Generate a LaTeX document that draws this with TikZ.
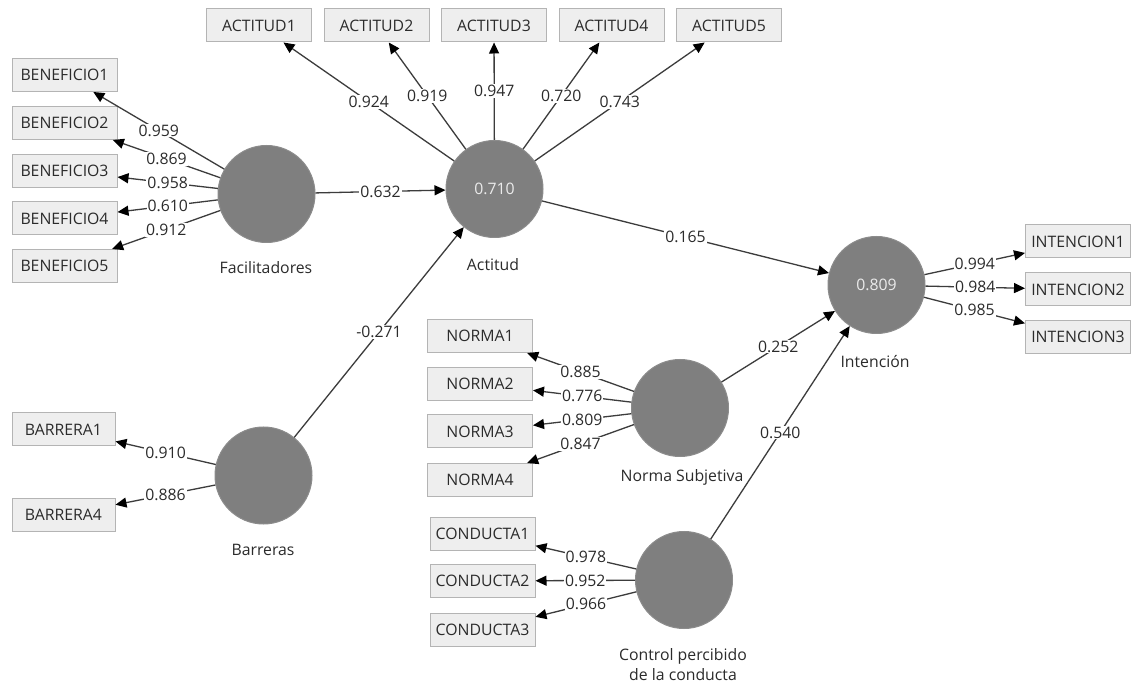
\documentclass[tikz,border=0pt]{standalone}
\usepackage{fontspec}
\setmainfont{Open Sans}
\usetikzlibrary{arrows.meta}
\definecolor{lvfill}{HTML}{7F7F7F}
\definecolor{lvedge}{HTML}{8C8C8C}
\definecolor{mvfill}{HTML}{EEEEEE}
\definecolor{mvdraw}{HTML}{B4B4B4}
\definecolor{ink}{HTML}{3C3C3C}
\definecolor{txt}{HTML}{2B2B2B}
\begin{document}
\begin{tikzpicture}[x=1pt,y=-1pt,
  font=\fontsize{15.8}{20}\selectfont,
  indicator/.style={draw=mvdraw, fill=mvfill, line width=1pt,
    minimum width=105pt, minimum height=33pt, inner sep=0pt, text=txt},
  latent/.style={circle, fill=lvfill, draw=lvedge, line width=1pt,
    minimum size=97pt, inner sep=0pt, text=white!92!black},
  caption/.style={text=txt, align=center, inner sep=0pt},
  link/.style={draw=ink, line width=1.3pt,
    -{Triangle[length=11pt,width=10pt,black]}},
  coef/.style={fill=white, inner sep=1pt, text=txt}
]
\useasboundingbox (0,0) rectangle (1133,684);
\fill[white] (0,0) rectangle (1133,684);

% latent variables
\node[latent] (fac) at (266.5,194) {};
\node[latent] (act) at (494.5,189) {0.710};
\node[latent] (int) at (876.5,285) {0.809};
\node[latent] (bar) at (263.5,475.5) {};
\node[latent] (nor) at (680,408) {};
\node[latent] (con) at (684,580) {};

% latent variable names
\node[caption] (facc) at (266,268) {Facilitadores};
\node[caption] (actc) at (493,265) {Actitud};
\node[caption] (intc) at (875,362) {Intención};
\node[caption] (barc) at (263,550) {Barreras};
\node[caption] (norc) at (682,477) {Norma Subjetiva};
\node[caption, text depth=0pt] (conc) at (683,664) {Control percibido\\de la conducta};

% indicators
\foreach \i/\x in {1/259,2/376.5,3/494,4/611.5,5/729}
  \node[indicator] (a\i) at (\x,25.5) {ACTITUD\i};
\foreach \i/\y in {1/75,2/123,3/171,4/218.5,5/266}
  \node[indicator] (b\i) at (64.5,\y) {BENEFICIO\i};
\foreach \i/\y in {1/241.5,2/289.5,3/337}
  \node[indicator] (i\i) at (1078,\y) {INTENCION\i};
\foreach \i/\y in {1/336,2/384,3/431.5,4/480}
  \node[indicator] (n\i) at (480,\y) {NORMA\i};
\node[indicator, minimum width=103pt] (r1) at (63.5,429.5) {BARRERA1};
\node[indicator, minimum width=103pt] (r4) at (63.5,515) {BARRERA4};
\foreach \i/\y in {1/533.5,2/581,3/630}
  \node[indicator] (c\i) at (482.5,\y) {CONDUCTA\i};

% outer loadings
\draw[link] (act) -- node[coef]{0.924} (a1);
\draw[link] (act) -- node[coef]{0.919} (a2);
\draw[link] (act) -- node[coef]{0.947} (a3);
\draw[link] (act) -- node[coef]{0.720} (a4);
\draw[link] (act) -- node[coef]{0.743} (a5);

\draw[link] (fac) -- node[coef]{0.959} (b1);
\draw[link] (fac) -- node[coef]{0.869} (b2);
\draw[link] (fac) -- node[coef]{0.958} (b3);
\draw[link] (fac) -- node[coef]{0.610} (b4);
\draw[link] (fac) -- node[coef]{0.912} (b5);

\draw[link] (int) -- node[coef]{0.994} (i1);
\draw[link] (int) -- node[coef]{0.984} (i2);
\draw[link] (int) -- node[coef]{0.985} (i3);

\draw[link] (nor) -- node[coef]{0.885} (n1);
\draw[link] (nor) -- node[coef]{0.776} (n2);
\draw[link] (nor) -- node[coef]{0.809} (n3);
\draw[link] (nor) -- node[coef]{0.847} (n4);

\draw[link] (bar) -- node[coef]{0.910} (r1);
\draw[link] (bar) -- node[coef]{0.886} (r4);

\draw[link] (con) -- node[coef]{0.978} (c1);
\draw[link] (con) -- node[coef]{0.952} (c2);
\draw[link] (con) -- node[coef]{0.966} (c3);

% structural paths
\draw[link] (fac) -- node[coef]{0.632} (act);
\draw[link] (bar) -- node[coef]{-0.271} (act);
\draw[link] (act) -- node[coef]{0.165} (int);
\draw[link] (nor) -- node[coef]{0.252} (int);
\draw[link] (con) -- node[coef]{0.540} (int);
\end{tikzpicture}
\end{document}
